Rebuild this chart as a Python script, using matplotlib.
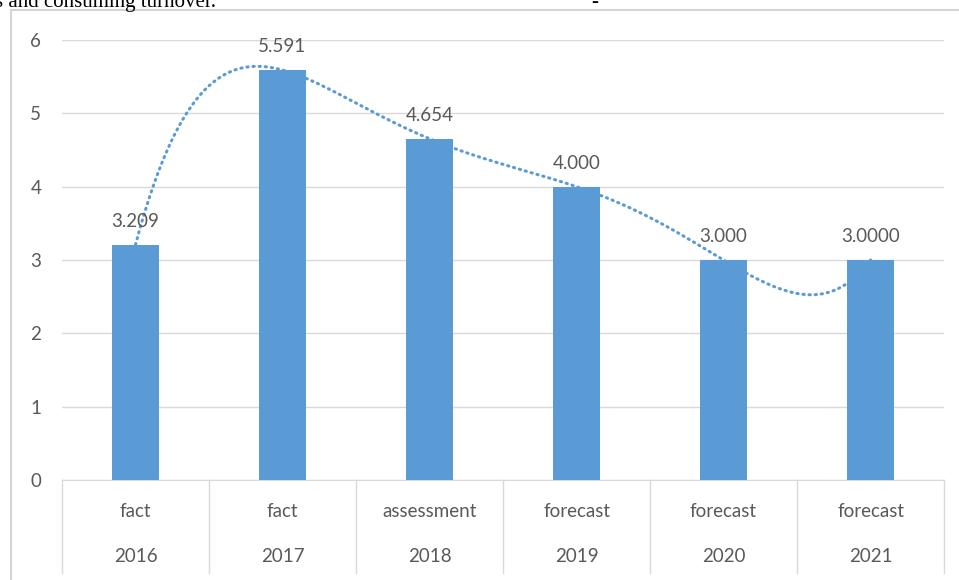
import matplotlib.pyplot as plt
import numpy as np
from matplotlib.patches import Rectangle
from matplotlib.lines import Line2D

plt.rcParams['font.family'] = ['Lato', 'DejaVu Sans']

years = ['2016', '2017', '2018', '2019', '2020', '2021']
kinds = ['fact', 'fact', 'assessment', 'forecast', 'forecast', 'forecast']
values = [3.209, 5.591, 4.654, 4.000, 3.000, 3.000]
value_labels = ['3.209', '5.591', '4.654', '4.000', '3.000', '3.0000']

W, H = 959, 580
fig = plt.figure(figsize=(W / 100, H / 100), dpi=100)

# outer chart frame (runs off the right and bottom of the crop)
fig.patches.append(Rectangle((11 / W, -0.05), 1.1, 1 - 10 / H + 0.05,
                             transform=fig.transFigure, fill=False,
                             edgecolor='#D4D4D4', linewidth=1.5))

# clipped caption line from the page above
fig.text(-0.005, 1 - 7 / H, 's and consuming turnover.', family='Liberation Serif',
         fontsize=15, color='black', va='baseline', ha='left')
fig.text(591 / W, 1 - 7 / H, '-', family='Liberation Serif',
         fontsize=15, color='black', va='baseline', ha='left')

left, right = 62 / W, 944 / W
bottom, top = (H - 480) / H, (H - 40) / H
ax = fig.add_axes([left, bottom, right - left, top - bottom])

x = np.arange(len(values))

# polynomial trendline through the bar values, drawn behind the bars
coef = np.polyfit(x, values, 5)
xs = np.linspace(0, len(values) - 1, 400)
ax.plot(xs, np.polyval(coef, xs), color='#5B9BD5', linewidth=2.2,
        linestyle=(0, (0.4, 1.6)), dash_capstyle='round', zorder=2.5)

ax.bar(x, values, width=0.32, color='#5B9BD5', zorder=3)

for xi, v, lab in zip(x, values, value_labels):
    ax.text(xi, v + 0.2, lab, ha='center', va='bottom', fontsize=13.5,
            color='#595959', zorder=5)

ax.set_xlim(-0.5, len(values) - 0.5)
ax.set_ylim(0, 6)
ax.set_yticks(range(0, 7))
ax.yaxis.grid(True, color='#D9D9D9', linewidth=1)
ax.set_axisbelow(True)
for s in ['top', 'right', 'left']:
    ax.spines[s].set_visible(False)
ax.spines['bottom'].set_color('#D9D9D9')
ax.tick_params(axis='y', length=0, pad=15, labelsize=13.5, labelcolor='#595959')
ax.set_xticks([])

# two-level category axis
for i in range(len(values) + 1):
    ax.add_line(Line2D([i - 0.5, i - 0.5], [0, -1.27], color='#D9D9D9',
                       linewidth=1, clip_on=False))
for xi, k, yr in zip(x, kinds, years):
    ax.text(xi, -0.43, k, ha='center', va='center', fontsize=13.5, color='#595959')
    ax.text(xi, -1.05, yr, ha='center', va='center', fontsize=13.5, color='#595959')

fig.savefig('out.png', dpi=100)
